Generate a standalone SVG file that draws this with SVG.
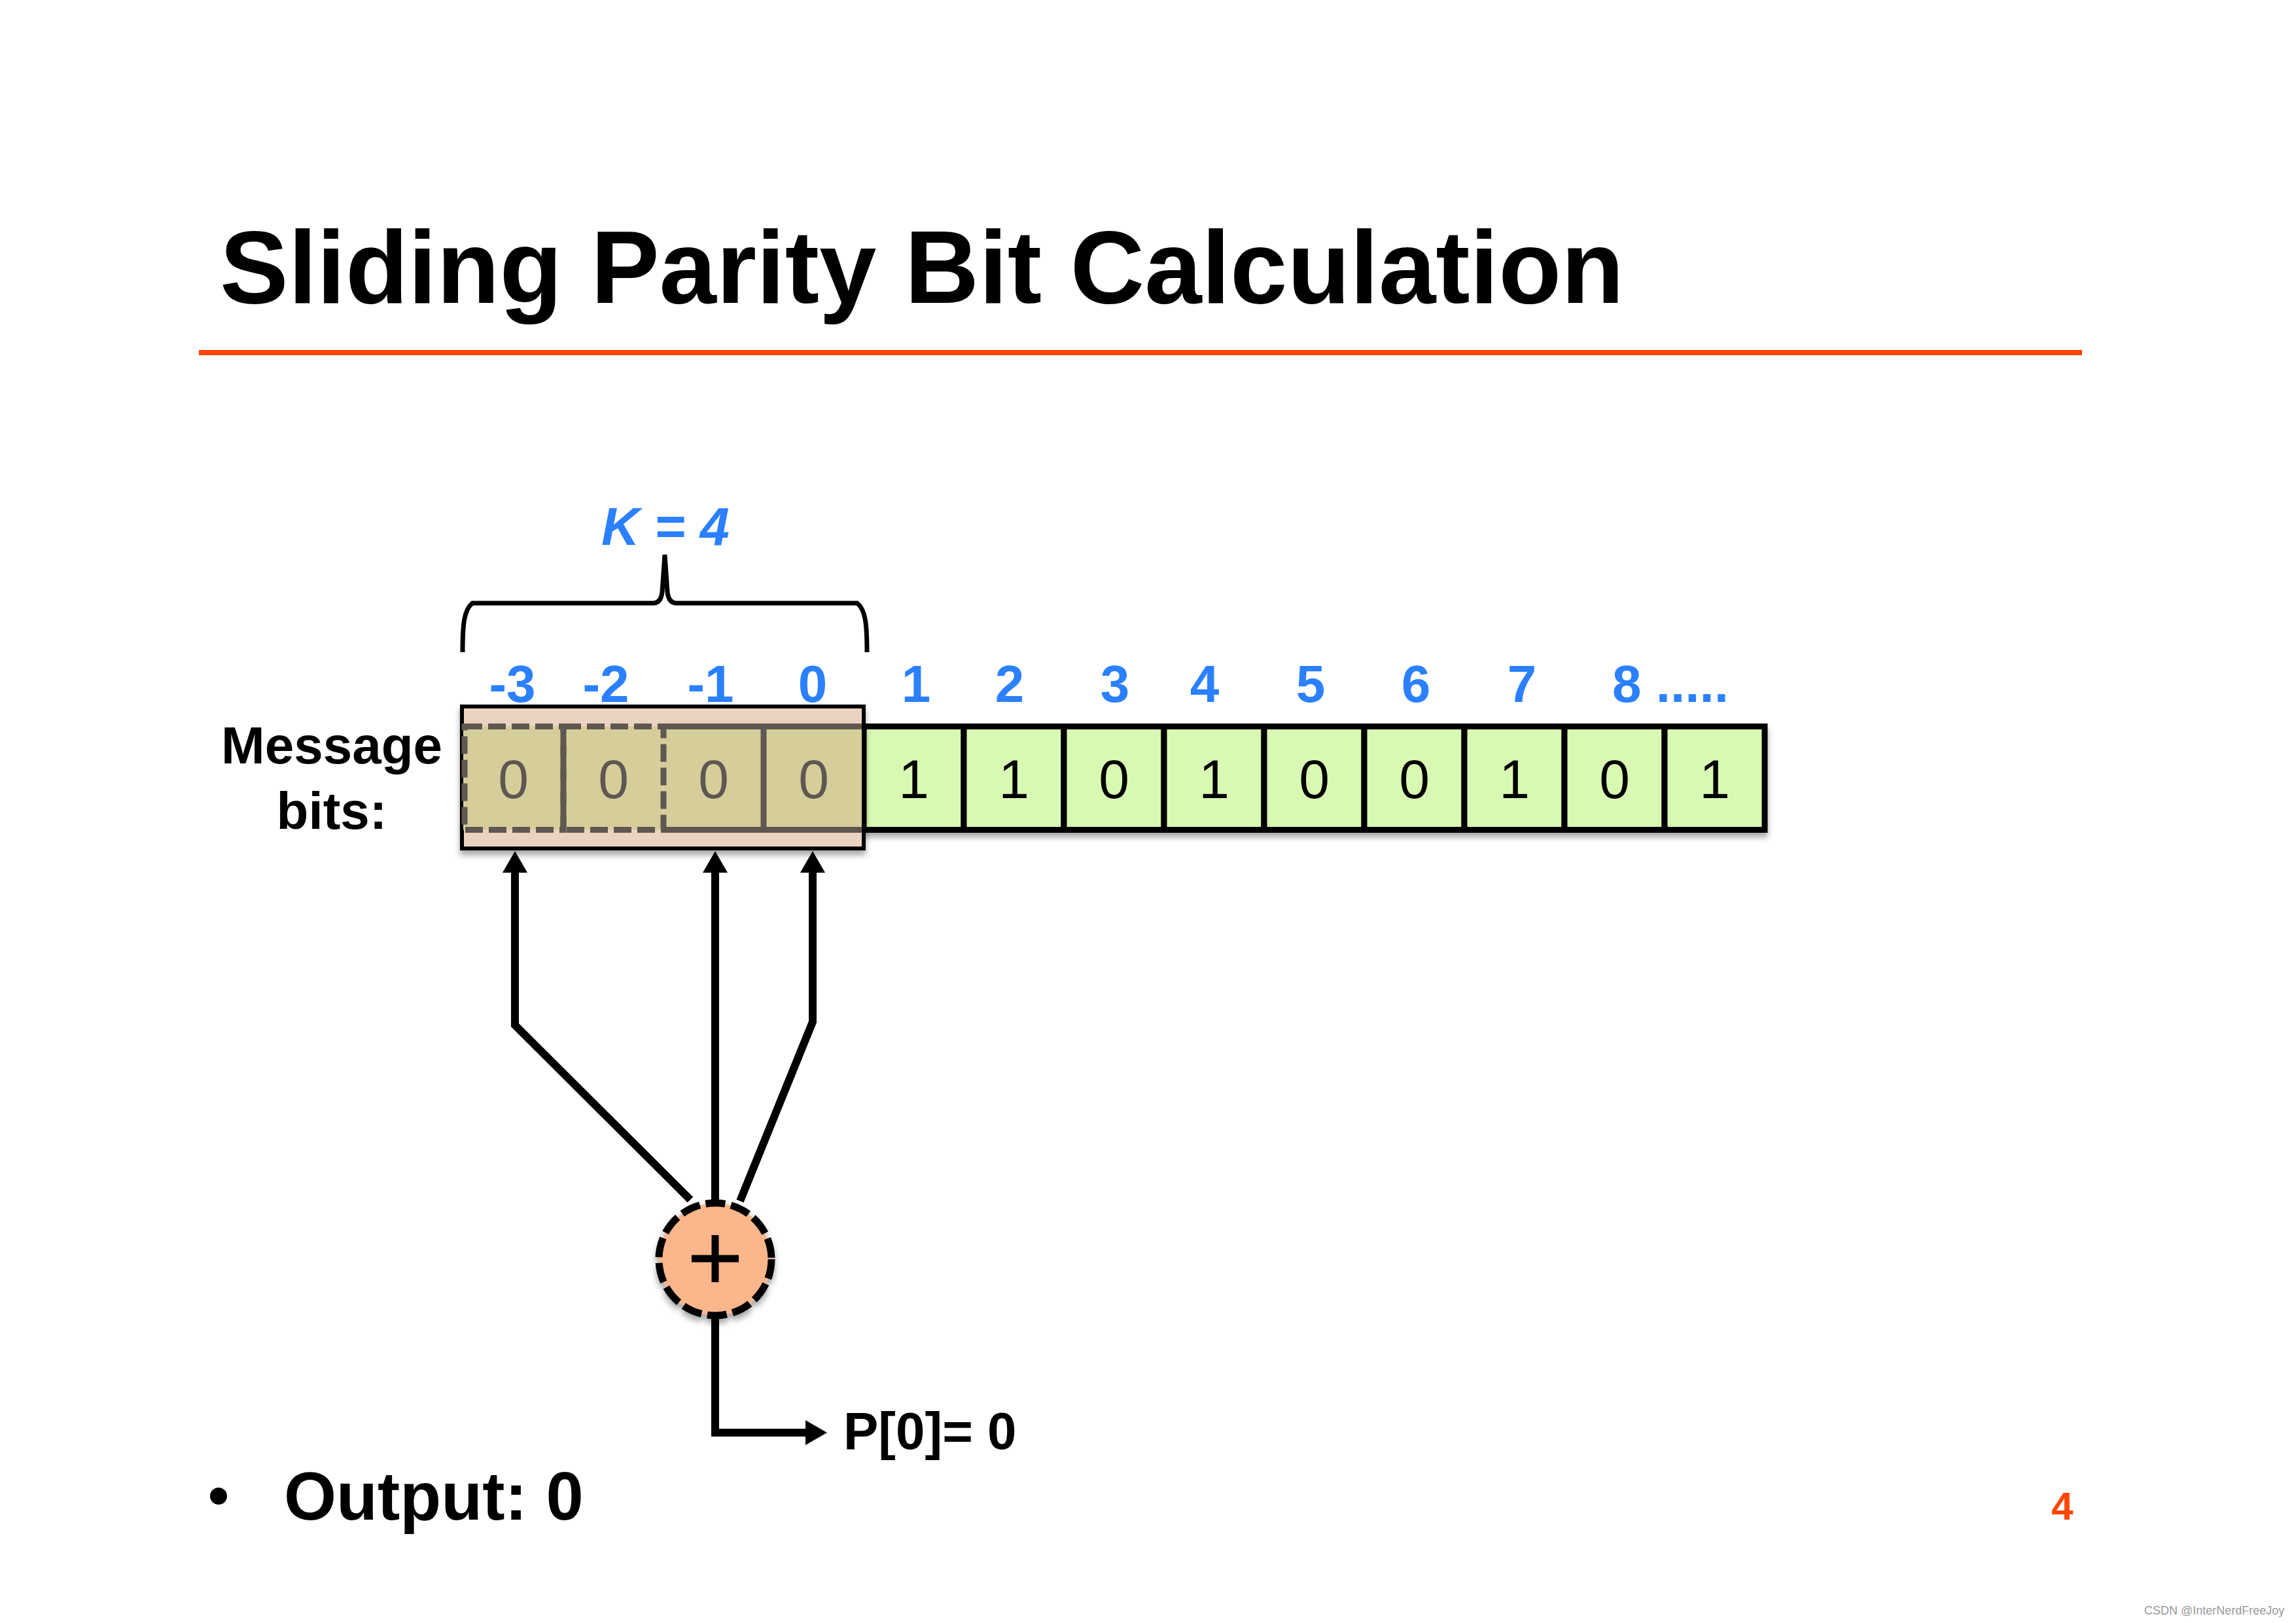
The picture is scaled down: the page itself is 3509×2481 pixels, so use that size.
<svg xmlns="http://www.w3.org/2000/svg" width="3509" height="2481" viewBox="0 0 3509 2481">
<style>
  .title{font-family:"Liberation Sans",Arial,sans-serif;font-weight:bold;font-size:157px;fill:#000}
  .idx{font-family:"Liberation Sans",Arial,sans-serif;font-weight:bold;font-size:80px;fill:#2A80FF;text-anchor:middle}
  .bit{font-family:"Liberation Sans",Arial,sans-serif;font-size:84px;fill:#000;text-anchor:middle}
  .bitw{font-family:"Liberation Sans",Arial,sans-serif;font-size:84px;fill:#5F5750;text-anchor:middle}
  .lbl{font-family:"Liberation Sans",Arial,sans-serif;font-weight:bold;font-size:80px;fill:#000}
  .cell{fill:#D9F8B3;stroke:#000;stroke-width:9}
  .conn{fill:none;stroke:#000;stroke-width:12;stroke-linejoin:miter}
</style>
<defs>
  <filter id="sh" x="-10%" y="-10%" width="120%" height="150%">
    <feDropShadow dx="0" dy="7" stdDeviation="5" flood-color="#000" flood-opacity="0.35"/>
  </filter>
  <marker id="ah" markerUnits="userSpaceOnUse" markerWidth="34" markerHeight="40" refX="0" refY="19" orient="auto" viewBox="0 0 34 40">
    <path d="M0,0 L33,19 L0,38 z" fill="#000"/>
  </marker>
</defs>
<rect width="3509" height="2481" fill="#fff"/>

<g id="title">
  <text class="title" x="336" y="463">Sliding Parity Bit Calculation</text>
  <rect x="304" y="535" width="2878" height="8" fill="#FF4500"/>
</g>

<g id="brace">
  <path d="M707,997 C707,955 709,932 722,922 H998 Q1010,922 1012,905 L1016,848 L1020,905 Q1022,922 1034,922 H1310 C1323,932 1325,955 1325,997" fill="none" stroke="#000" stroke-width="7"/>
  <text x="1017" y="833" font-family="'Liberation Sans',Arial,sans-serif" font-weight="bold" font-style="italic" font-size="81" fill="#2A80FF" text-anchor="middle">K = 4</text>
</g>

<g id="indices">
  <text class="idx" x="783" y="1073">-3</text>
  <text class="idx" x="926" y="1073">-2</text>
  <text class="idx" x="1086" y="1073">-1</text>
  <text class="idx" x="1242" y="1073">0</text>
  <text class="idx" x="1400" y="1073">1</text>
  <text class="idx" x="1543" y="1073">2</text>
  <text class="idx" x="1704" y="1073">3</text>
  <text class="idx" x="1841" y="1073">4</text>
  <text class="idx" x="2003" y="1073">5</text>
  <text class="idx" x="2164" y="1073">6</text>
  <text class="idx" x="2326" y="1073">7</text>
  <text class="idx" x="2464" y="1073" style="text-anchor:start">8 .....</text>
</g>

<g id="message-label">
  <text class="lbl" x="507" y="1167" text-anchor="middle">Message</text>
  <text class="lbl" x="507" y="1267" text-anchor="middle">bits:</text>
</g>

<g id="bits" filter="url(#sh)">
  <rect class="cell" x="1320" y="1110.5" width="153" height="158"/>
  <rect class="cell" x="1473" y="1110.5" width="153" height="158"/>
  <rect class="cell" x="1626" y="1110.5" width="153" height="158"/>
  <rect class="cell" x="1779" y="1110.5" width="153" height="158"/>
  <rect class="cell" x="1932" y="1110.5" width="153" height="158"/>
  <rect class="cell" x="2085" y="1110.5" width="153" height="158"/>
  <rect class="cell" x="2238" y="1110.5" width="153" height="158"/>
  <rect class="cell" x="2391" y="1110.5" width="153" height="158"/>
  <rect class="cell" x="2544" y="1110.5" width="153" height="158"/>
</g>
<g id="bit-values">
  <text class="bit" x="1396.5" y="1220">1</text>
  <text class="bit" x="1549.5" y="1220">1</text>
  <text class="bit" x="1702.5" y="1220">0</text>
  <text class="bit" x="1855.5" y="1220">1</text>
  <text class="bit" x="2008.5" y="1220">0</text>
  <text class="bit" x="2161.5" y="1220">0</text>
  <text class="bit" x="2314.5" y="1220">1</text>
  <text class="bit" x="2467.5" y="1220">0</text>
  <text class="bit" x="2620.5" y="1220">1</text>
</g>

<g id="window">
  <rect x="706" y="1080" width="614" height="217" fill="#EBD3C1" stroke="#000" stroke-width="6" filter="url(#sh)"/>
  <rect x="708" y="1110.5" width="612" height="158" fill="#D5CE9B"/>
  <path d="M1010,1110.5 H1320 M1010,1268.5 H1320 M1167,1110.5 V1268.5" fill="none" stroke="#5F5750" stroke-width="9"/>
  <rect x="710" y="1110.5" width="151" height="158" fill="none" stroke="#5F5750" stroke-width="9" stroke-dasharray="27 9"/>
  <rect x="861" y="1110.5" width="153" height="158" fill="none" stroke="#5F5750" stroke-width="9" stroke-dasharray="27 9"/>
  <path d="M1320,1080 V1297" stroke="#000" stroke-width="6"/>
  <text class="bitw" x="784.5" y="1220">0</text>
  <text class="bitw" x="937.5" y="1220">0</text>
  <text class="bitw" x="1090.5" y="1220">0</text>
  <text class="bitw" x="1243.5" y="1220">0</text>
</g>

<g id="connectors">
  <path class="conn" d="M1055,1834 L787,1567 L787,1334" marker-end="url(#ah)"/>
  <path class="conn" d="M1093,1840 L1093,1334" marker-end="url(#ah)"/>
  <path class="conn" d="M1131,1836 L1242,1562 L1242,1334" marker-end="url(#ah)"/>
  <path class="conn" d="M1093,2010 L1093,2190 L1231,2190" marker-end="url(#ah)"/>
</g>

<g id="xor" filter="url(#sh)">
  <circle cx="1093" cy="1925" r="86" fill="#FBB68C" stroke="#000" stroke-width="11" stroke-dasharray="30 9"/>
  <path d="M1057,1924 H1129 M1093,1888 V1960" stroke="#000" stroke-width="11"/>
</g>

<g id="parity-out">
  <text class="lbl" x="1289" y="2215">P[0]= 0</text>
</g>

<g id="output">
  <circle cx="334" cy="2287" r="13" fill="#000"/>
  <text x="434" y="2323" font-family="'Liberation Sans',Arial,sans-serif" font-weight="bold" font-size="103" fill="#000">Output: 0</text>
</g>

<text x="3152" y="2323" font-family="'Liberation Sans',Arial,sans-serif" font-weight="bold" font-size="60" fill="#FF4500" text-anchor="middle">4</text>
<text x="3277" y="2468" font-family="'Liberation Sans',Arial,sans-serif" font-size="18" fill="#999">CSDN @InterNerdFreeJoy</text>
</svg>
